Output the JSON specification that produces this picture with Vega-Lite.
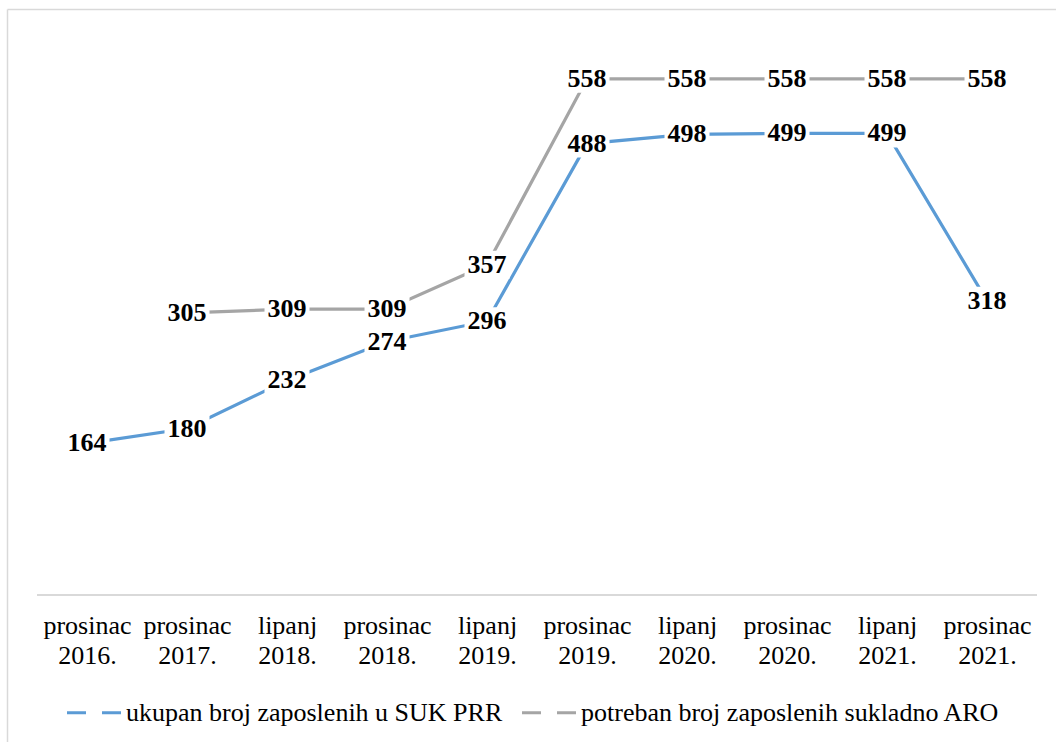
{
  "$schema": "https://vega.github.io/schema/vega-lite/v6.json",
  "width": 1049,
  "height": 733,
  "padding": {"left": 7, "top": 9, "right": 0, "bottom": 0},
  "autosize": {"type": "none"},
  "background": "white",
  "config": {"view": {"stroke": null}},
  "data": {
    "values": [
      {"period": "prosinac 2016.", "series": "ukupan  broj zaposlenih u SUK PRR", "value": 164},
      {"period": "prosinac 2017.", "series": "ukupan  broj zaposlenih u SUK PRR", "value": 180},
      {"period": "lipanj 2018.", "series": "ukupan  broj zaposlenih u SUK PRR", "value": 232},
      {"period": "prosinac 2018.", "series": "ukupan  broj zaposlenih u SUK PRR", "value": 274},
      {"period": "lipanj 2019.", "series": "ukupan  broj zaposlenih u SUK PRR", "value": 296},
      {"period": "prosinac 2019.", "series": "ukupan  broj zaposlenih u SUK PRR", "value": 488},
      {"period": "lipanj 2020.", "series": "ukupan  broj zaposlenih u SUK PRR", "value": 498},
      {"period": "prosinac 2020.", "series": "ukupan  broj zaposlenih u SUK PRR", "value": 499},
      {"period": "lipanj 2021.", "series": "ukupan  broj zaposlenih u SUK PRR", "value": 499},
      {"period": "prosinac 2021.", "series": "ukupan  broj zaposlenih u SUK PRR", "value": 318},
      {"period": "prosinac 2017.", "series": "potreban broj zaposlenih sukladno ARO", "value": 305},
      {"period": "lipanj 2018.", "series": "potreban broj zaposlenih sukladno ARO", "value": 309},
      {"period": "prosinac 2018.", "series": "potreban broj zaposlenih sukladno ARO", "value": 309},
      {"period": "lipanj 2019.", "series": "potreban broj zaposlenih sukladno ARO", "value": 357},
      {"period": "prosinac 2019.", "series": "potreban broj zaposlenih sukladno ARO", "value": 558},
      {"period": "lipanj 2020.", "series": "potreban broj zaposlenih sukladno ARO", "value": 558},
      {"period": "prosinac 2020.", "series": "potreban broj zaposlenih sukladno ARO", "value": 558},
      {"period": "lipanj 2021.", "series": "potreban broj zaposlenih sukladno ARO", "value": 558},
      {"period": "prosinac 2021.", "series": "potreban broj zaposlenih sukladno ARO", "value": 558}
    ]
  },
  "encoding": {
    "x": {
      "field": "period",
      "type": "ordinal",
      "sort": null,
      "scale": {"type": "point", "padding": 0.745, "align": 0.537},
      "axis": {
        "orient": "bottom",
        "offset": -147,
        "domain": false,
        "ticks": false,
        "grid": false,
        "title": null,
        "labelAngle": 0,
        "labelPadding": 17,
        "labelFont": "Liberation Serif",
        "labelFontSize": 26,
        "labelColor": "#000000",
        "labelLineHeight": 30,
        "labelOverlap": false,
        "labelExpr": "split(datum.label, ' ')"
      }
    },
    "y": {
      "field": "value",
      "type": "quantitative",
      "scale": {"domain": [-158.9, 633.5], "nice": false, "zero": false},
      "axis": {
        "orient": "left",
        "domain": true,
        "domainColor": "#d9d9d9",
        "domainWidth": 1.5,
        "ticks": false,
        "labels": false,
        "grid": true,
        "gridColor": "#d9d9d9",
        "gridWidth": 1.5,
        "values": [633.5],
        "title": null
      }
    }
  },
  "layer": [
    {
      "transform": [{"filter": "datum.series == 'ukupan  broj zaposlenih u SUK PRR'"}],
      "mark": {"type": "tick", "color": "#d9d9d9", "size": 100, "thickness": 2, "orient": "horizontal", "opacity": 1},
      "encoding": {"y": {"datum": 0}}
    },
    {
      "mark": {"type": "line", "strokeWidth": 3.2},
      "encoding": {
        "color": {
          "field": "series",
          "type": "nominal",
          "scale": {
            "domain": ["ukupan  broj zaposlenih u SUK PRR", "potreban broj zaposlenih sukladno ARO"],
            "range": ["#5b9bd5", "#a5a5a5"]
          },
          "legend": {
            "title": null,
            "orient": "none",
            "legendX": 58,
            "legendY": 674,
            "direction": "horizontal",
            "padding": 0,
            "symbolType": "stroke",
            "symbolSize": 3025,
            "symbolStrokeWidth": 3.2,
            "symbolDash": [19, 16],
            "labelFont": "Liberation Serif",
            "labelFontSize": 26,
            "labelColor": "#000000",
            "labelLimit": 700,
            "labelOffset": 2,
            "columnPadding": 6
          }
        },
        "detail": {"field": "series"}
      }
    },
    {
      "mark": {
        "type": "point",
        "shape": "M-1,-0.622H1V0.622H-1Z",
        "size": 2025,
        "filled": true,
        "fill": "#ffffff",
        "opacity": 1,
        "strokeWidth": 0
      }
    },
    {
      "mark": {
        "type": "text",
        "font": "Liberation Serif",
        "fontWeight": "bold",
        "fontSize": 26,
        "color": "#000000",
        "align": "center",
        "baseline": "middle"
      },
      "encoding": {"text": {"field": "value", "type": "quantitative"}}
    }
  ]
}
